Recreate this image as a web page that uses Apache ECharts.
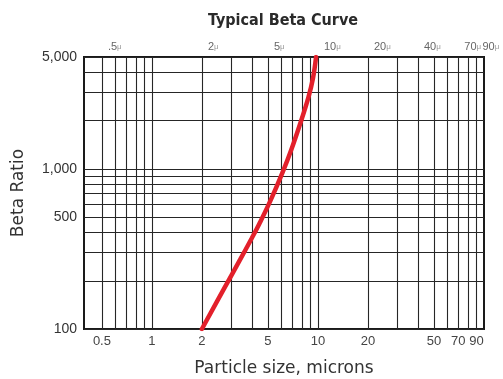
<!DOCTYPE html>
<html>
<head>
<meta charset="utf-8">
<script src="https://cdn.jsdelivr.net/npm/echarts@6/dist/echarts.min.js"></script>
<style>
  html, body { margin: 0; padding: 0; background: #fff; }
  #chart { width: 503px; height: 379px; }
</style>
</head>
<body>
<div id="chart"></div>
<script>
// grid lines of the log-log paper
var xGridValues = [0.5, 0.6, 0.7, 0.8, 0.9, 1, 2, 3, 4, 5, 6, 7, 8, 9, 10, 20, 30, 40, 50, 60, 70, 80, 90];
var yGridValues = [100, 200, 300, 400, 500, 600, 700, 800, 900, 1000, 2000, 3000, 4000, 5000];

// tick labels
var xLabelValues = [0.5, 1, 2, 5, 10, 20, 50, 70, 90];
var topLabelValues = [0.5, 2, 5, 10, 20, 40, 70, 90];
var topLabelText = ['.5', '2', '5', '10', '20', '40', '70', '90'];
var yLabelValues = [100, 500, 1000, 5000];

// beta curve (particle size in microns, beta ratio)
var sizes = [2.0, 2.73, 3.39, 4.0, 4.43, 5.2, 6.14, 6.9, 7.84, 8.77, 9.34, 9.74];
var betas = [100, 180, 270, 370, 453, 640, 957, 1312, 1936, 2812, 3697, 5000];

var curve = sizes.map(function (s, i) { return [s, betas[i]]; });

function withComma(v) {
  return String(Math.round(v)).replace(/\B(?=(\d{3})+(?!\d))/g, ',');
}

var dom = document.getElementById('chart');
var myChart = echarts.init(dom, null, { renderer: 'canvas' });

var gridLine = { show: true, lineStyle: { color: '#262626', width: 1.1 } };

var option = {
  animation: false,
  title: {
    text: 'Typical Beta Curve',
    left: 203,
    top: 8,
    textStyle: {
      fontFamily: 'DejaVu Sans Condensed',
      fontWeight: 'bold',
      fontSize: 16,
      color: '#2a2a2a'
    }
  },
  grid: {
    left: 84,
    right: 19,
    top: 57,
    bottom: 50,
    outerBoundsMode: 'none',
    containLabel: false,
    show: true,
    borderColor: '#1a1a1a',
    borderWidth: 2
  },
  xAxis: [
    {
      type: 'log',
      position: 'bottom',
      min: 0.39,
      max: 100,
      name: 'Particle size, microns',
      nameLocation: 'middle',
      nameGap: 31,
      nameTextStyle: { fontFamily: 'DejaVu Sans', fontSize: 17, color: '#333' },
      axisLine: { show: false },
      axisTick: { show: false, customValues: xGridValues },
      splitLine: gridLine,
      axisLabel: {
        customValues: xLabelValues,
        margin: 6,
        showMinLabel: true,
        showMaxLabel: true,
        fontFamily: 'Liberation Sans',
        fontSize: 13,
        color: '#444',
        formatter: function (v) { return String(+(+v).toPrecision(3)); }
      }
    },
    {
      type: 'log',
      position: 'top',
      min: 0.39,
      max: 100,
      axisLine: { show: false },
      axisTick: { show: false },
      splitLine: { show: false },
      axisLabel: {
        // trailing blank at the axis end keeps the 70/90 pair from being thinned out
        customValues: topLabelValues.concat([100]),
        margin: 5,
        align: 'left',
        padding: [0, 0, 0, 6],
        showMinLabel: true,
        showMaxLabel: false,
        hideOverlap: false,
        formatter: function (v) {
          var i = topLabelValues.indexOf(+(+v).toPrecision(3));
          if (i < 0) return '';
          return '{n|' + topLabelText[i] + '}{u|μ}';
        },
        rich: {
          n: { fontFamily: 'Liberation Sans', fontSize: 11, color: '#666' },
          u: { fontFamily: 'Liberation Sans', fontSize: 8, color: '#999' }
        }
      }
    }
  ],
  yAxis: {
    type: 'log',
    min: 100,
    max: 5000,
    name: 'Beta Ratio',
    nameLocation: 'middle',
    nameGap: 57,
    nameTextStyle: { fontFamily: 'DejaVu Sans', fontSize: 17, color: '#333' },
    axisLine: { show: false },
    axisTick: { show: false, customValues: yGridValues },
    splitLine: gridLine,
    axisLabel: {
      customValues: yLabelValues,
      margin: 7,
      showMinLabel: true,
      showMaxLabel: true,
      fontFamily: 'Liberation Sans',
      fontSize: 14,
      color: '#333',
      formatter: function (v) { return withComma(v); }
    }
  },
  series: [
    {
      type: 'line',
      xAxisIndex: 0,
      data: curve,
      smooth: 0.4,
      symbol: 'none',
      lineStyle: { color: '#e3202b', width: 4.5, cap: 'round' }
    }
  ]
};

myChart.setOption(option);
window.addEventListener('resize', myChart.resize);
</script>
</body>
</html>
